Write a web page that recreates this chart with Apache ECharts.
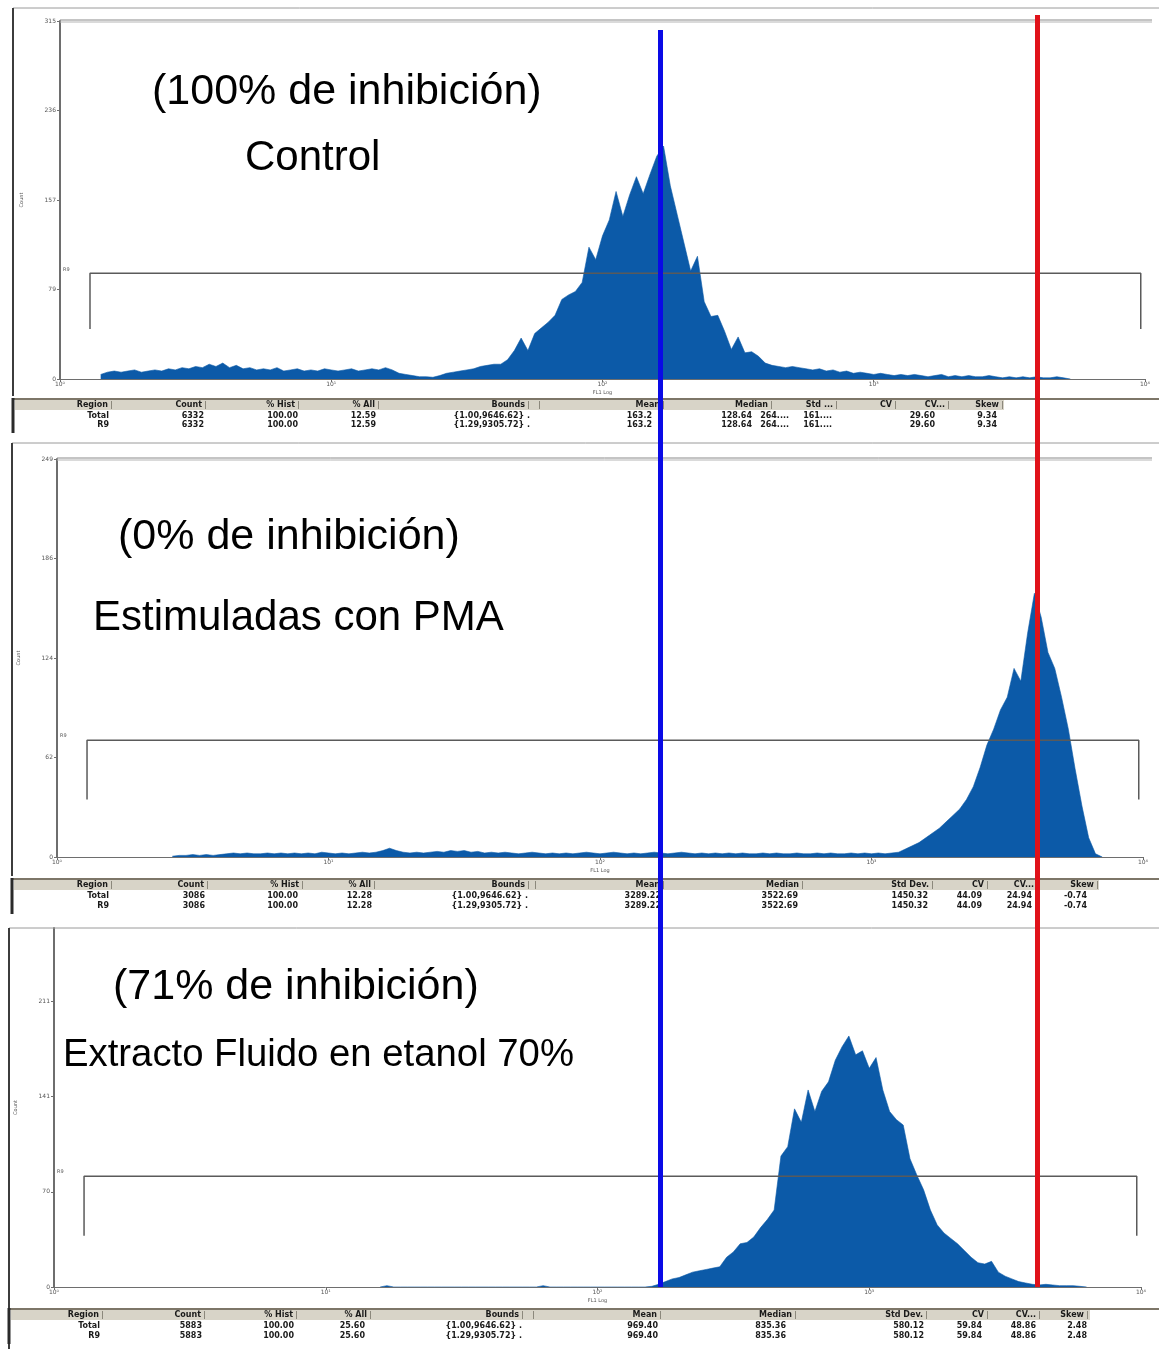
<!DOCTYPE html>
<html>
<head>
<meta charset="utf-8">
<script src="https://cdn.jsdelivr.net/npm/echarts@6/dist/echarts.min.js"></script>
<style>
html, body { margin: 0; padding: 0; background: #ffffff; }
#c { width: 1159px; height: 1349px; }
</style>
</head>
<body>
<div id="c"></div>
<script>
// FL1 channels are binned every 0.025 decade on the log axis
const BIN_STEP = 0.025;
const FL1_MIN = 1;
const FL1_MAX = 10000;
const DECADE_SUP = ['\u2070', '\u00b9', '\u00b2', '\u00b3', '\u2074'];

// --- Control (100% de inhibición) ---
const controlStart = 0.15;
const controlCounts = [
  4, 6, 7, 6, 7, 8, 6, 7, 8, 7, 9, 8, 10, 9, 11, 10, 13, 11, 14, 10,
  12, 9, 10, 8, 9, 8, 10, 7, 8, 9, 7, 8, 7, 9, 8, 7, 8, 9, 7, 8,
  9, 8, 10, 8, 5, 4, 3, 2, 2, 1.5, 3, 5, 6, 7, 8, 9, 11, 12, 13, 13,
  17, 25, 36, 25, 40, 45, 50, 56, 70, 74, 77, 85, 116, 105, 126, 140, 165, 143, 162, 178,
  163, 180, 196, 205, 170, 145, 120, 95, 108, 68, 55, 56, 42, 26, 37, 23, 24, 20, 14, 12,
  11, 10, 11, 10, 9, 8, 9, 7, 8, 6, 7, 5, 6, 5, 4, 5, 4, 3, 4, 3,
  4, 3, 2, 3, 4, 2, 3, 2, 3, 2, 2, 3, 2, 1, 2, 1, 2, 1, 2, 1,
  1, 2, 1, 0
];
const controlYTicks = [0, 78.75, 157.5, 236.25, 315];
const controlYLabels = ['0', '79', '157', '236', '315'];

// --- Estimuladas con PMA (0% de inhibición) ---
const pmaStart = 0.425;
const pmaCounts = [
  0.5, 1, 1, 1.5, 1, 1.5, 1, 1.5, 2, 2.5, 2, 2.5, 2, 2, 2.5, 2, 2.5, 2, 2.5, 2,
  2.5, 2, 3, 2.5, 2, 2.5, 2, 2.5, 3, 2.5, 3, 4, 5.5, 4, 3, 2.5, 3, 2.5, 3, 3.5,
  3, 4, 3.5, 4, 3, 3.5, 2.5, 3, 2.5, 3, 2.5, 2, 2.5, 3, 2.5, 2, 2.5, 2, 2.5, 2,
  2.5, 3, 2.5, 2, 2.5, 3, 2.5, 2, 2.5, 2, 2.5, 3, 2.5, 2, 2.5, 3, 2.5, 2, 2.5, 2,
  2.5, 2, 2.5, 2, 2.5, 2, 2, 2.5, 2, 2.5, 2, 2, 2.5, 2, 2, 2.5, 2, 2.5, 2, 2,
  2.5, 2, 2.5, 2, 2.5, 2, 2.5, 3, 5, 7, 9, 12, 15, 18, 22, 26, 30, 36, 44, 56,
  70, 80, 92, 100, 118, 110, 140, 165, 150, 128, 118, 100, 80, 55, 32, 12, 2, 0
];
const pmaYTicks = [0, 62.25, 124.5, 186.75, 249];
const pmaYLabels = ['0', '62', '124', '186', '249'];

// --- Extracto Fluido en etanol 70% (71% de inhibición) ---
const extractStart = 1.2;
const extractCounts = [
  0, 1, 0, 0, 0, 0, 0, 0, 0, 0, 0, 0, 0, 0, 0, 0, 0, 0, 0, 0,
  0, 0, 0, 0, 1, 0, 0, 0, 0, 0, 0, 0, 0, 0, 0, 0, 0, 0, 0, 0,
  0.5, 2, 4, 6, 7, 9, 11, 12, 13, 14, 15, 22, 26, 32, 33, 37, 44, 50, 57, 97,
  104, 132, 122, 146, 130, 145, 152, 168, 178, 186, 172, 175, 162, 170, 146, 130, 124, 120, 95, 83,
  72, 57, 46, 40, 36, 32, 27, 22, 18, 17, 19, 11, 8, 6, 4, 3, 2, 1.5, 2, 1.5,
  1, 1, 1, 0.5, 0
];
const extractYTicks = [0, 70.5, 141, 211.5];
const extractYLabels = ['0', '70', '141', '211'];

// Region marker: lower bound of R9, upper bound of the full range
const regionBounds = [1.29, 9646.62];
const regionLevels = [93, 73, 82];
const regionDrops = [44, 36, 38];

// Reference lines: control mean and PMA peak
const controlMeanFL1 = 163.2;
const pmaPeakFL1 = 4000;

// Statistics tables
const statHeaders1 = ['Region', 'Count', '% Hist', '% All', 'Bounds', '', 'Mean', 'Median', 'Std ...', 'CV', 'CV...', 'Skew'];
const statHeaders23 = ['Region', 'Count', '% Hist', '% All', 'Bounds', '', 'Mean', 'Median', 'Std Dev.', 'CV', 'CV...', 'Skew'];
const controlStats = [
  ['Total', '6332', '100.00', '12.59', '{1.00,9646.62} .', '', '163.2', '128.64', '264....', '161....', '29.60', '9.34'],
  ['R9', '6332', '100.00', '12.59', '{1.29,9305.72} .', '', '163.2', '128.64', '264....', '161....', '29.60', '9.34']
];
const pmaStats = [
  ['Total', '3086', '100.00', '12.28', '{1.00,9646.62} .', '', '3289.22', '3522.69', '1450.32', '44.09', '24.94', '-0.74'],
  ['R9', '3086', '100.00', '12.28', '{1.29,9305.72} .', '', '3289.22', '3522.69', '1450.32', '44.09', '24.94', '-0.74']
];
const extractStats = [
  ['Total', '5883', '100.00', '25.60', '{1.00,9646.62} .', '', '969.40', '835.36', '580.12', '59.84', '48.86', '2.48'],
  ['R9', '5883', '100.00', '25.60', '{1.29,9305.72} .', '', '969.40', '835.36', '580.12', '59.84', '48.86', '2.48']
];

const titles = [
  ['(100% de inhibición)', 'Control'],
  ['(0% de inhibición)', 'Estimuladas con PMA'],
  ['(71% de inhibición)', 'Extracto Fluido en etanol 70%']
];

// ---------------------------------------------------------------
// Layout of the three histogram windows
const layout = [
  {
    grid: { left: 60, top: 21, width: 1085, height: 358 },
    yMax: 315, frameTop: 8, frameLeft: 13, frameBottom: 396, plotTopLine: true,
    tableTop: 398, headerY: 405, rowY: [416, 425], tableRight: 1004,
    seps: [111, 205, 298, 378, 528, 539, 663, 771, 836, 895, 948, 1002],
    valRight: [109, 204, 298, 376, 530, 539, 652, 752, 789, 832, 935, 997],
    titleA: { x: 152, y: 92, size: 43 }, titleB: { x: 245, y: 158, size: 42 },
    markLabel: { x: 63, y: 270 }
  },
  {
    grid: { left: 57, top: 459, width: 1086, height: 398 },
    yMax: 249, frameTop: 443, frameLeft: 12, frameBottom: 876, plotTopLine: true,
    tableTop: 878, headerY: 885, rowY: [896, 906], tableRight: 1099,
    seps: [111, 207, 302, 374, 528, 535, 663, 802, 932, 987, 1037, 1097],
    valRight: [109, 205, 298, 372, 528, 535, 661, 798, 928, 982, 1032, 1087],
    titleA: { x: 118, y: 537, size: 43 }, titleB: { x: 93, y: 618, size: 42 },
    markLabel: { x: 60, y: 736 }
  },
  {
    grid: { left: 54, top: 928, width: 1087, height: 359 },
    yMax: 266, frameTop: 928, frameLeft: 9, frameBottom: 1349, plotTopLine: false,
    tableTop: 1308, headerY: 1315, rowY: [1326, 1336], tableRight: 1090,
    seps: [102, 204, 296, 370, 522, 533, 660, 795, 926, 987, 1039, 1087],
    valRight: [100, 202, 294, 365, 522, 533, 658, 786, 924, 982, 1036, 1087],
    titleA: { x: 113, y: 987, size: 43 }, titleB: { x: 63, y: 1055, size: 38.3 },
    markLabel: { x: 57, y: 1172 }
  }
];

const histColor = '#0c5aa8';
const axisGrey = '#6e6e6e';
const labelFont = 'Liberation Sans';
const tableFont = 'DejaVu Sans';

const panelData = [
  { start: controlStart, counts: controlCounts, ticks: controlYTicks, labels: controlYLabels, stats: controlStats, headers: statHeaders1 },
  { start: pmaStart, counts: pmaCounts, ticks: pmaYTicks, labels: pmaYLabels, stats: pmaStats, headers: statHeaders23 },
  { start: extractStart, counts: extractCounts, ticks: extractYTicks, labels: extractYLabels, stats: extractStats, headers: statHeaders23 }
];

function binned(start, counts) {
  return counts.map((c, i) => [Math.pow(10, start + i * BIN_STEP), c]);
}

const grids = [], xAxes = [], yAxes = [], series = [], graphics = [];

panelData.forEach((pd, p) => {
  const L = layout[p];
  grids.push(L.grid);
  xAxes.push({
    type: 'log', logBase: 10, gridIndex: p, min: FL1_MIN, max: FL1_MAX,
    name: 'FL1 Log', nameLocation: 'middle', nameGap: 11,
    nameTextStyle: { fontSize: 5, color: '#555', fontFamily: tableFont },
    axisLine: { lineStyle: { color: axisGrey, width: 1 } },
    axisTick: { length: 3, lineStyle: { color: axisGrey } },
    axisLabel: {
      fontSize: 6, color: '#555', margin: 2, fontFamily: tableFont,
      formatter: v => '10' + DECADE_SUP[Math.round(Math.log10(v))]
    },
    splitLine: { show: false }, minorTick: { show: false }
  });
  yAxes.push({
    type: 'value', gridIndex: p, min: 0, max: L.yMax,
    name: 'Count', nameLocation: 'middle', nameGap: 36, nameRotate: 90,
    nameTextStyle: { fontSize: 5, color: '#555', fontFamily: tableFont },
    axisLine: { show: true, lineStyle: { color: axisGrey, width: 2 } },
    axisTick: { show: true, length: 3, customValues: pd.ticks, lineStyle: { color: axisGrey } },
    axisLabel: {
      fontSize: 6, color: '#555', margin: 4, fontFamily: tableFont,
      customValues: pd.ticks,
      formatter: v => {
        const k = pd.ticks.findIndex(t => Math.abs(t - v) < 1e-6);
        return k >= 0 ? pd.labels[k] : '';
      }
    },
    splitLine: { show: false }
  });
  // histogram
  series.push({
    type: 'line', xAxisIndex: p, yAxisIndex: p, data: binned(pd.start, pd.counts),
    symbol: 'none', smooth: false, z: 3,
    lineStyle: { color: histColor, width: 0.6 },
    areaStyle: { color: histColor, opacity: 1 },
    silent: true, animation: false
  });
  // region marker bar
  series.push({
    type: 'line', xAxisIndex: p, yAxisIndex: p, symbol: 'none', z: 4,
    data: [
      [regionBounds[0], regionDrops[p]], [regionBounds[0], regionLevels[p]],
      [regionBounds[1], regionLevels[p]], [regionBounds[1], regionDrops[p]]
    ],
    lineStyle: { color: '#5a5a5a', width: 1.5 },
    silent: true, animation: false
  });

  // window frame
  graphics.push({ type: 'line', z: 1, shape: { x1: L.frameLeft, y1: L.frameTop, x2: 1159, y2: L.frameTop }, style: { stroke: '#9a9a9a', lineWidth: 1 } });
  graphics.push({ type: 'line', z: 1, shape: { x1: L.frameLeft, y1: L.frameTop, x2: L.frameLeft, y2: L.frameBottom }, style: { stroke: '#3c3c3c', lineWidth: 2 } });
  if (L.plotTopLine) {
    graphics.push({ type: 'line', z: 1, shape: { x1: L.grid.left, y1: L.grid.top - 1, x2: 1152, y2: L.grid.top - 1 }, style: { stroke: '#8a8a8a', lineWidth: 1 } });
    graphics.push({ type: 'line', z: 1, shape: { x1: L.grid.left, y1: L.grid.top + 1, x2: 1152, y2: L.grid.top + 1 }, style: { stroke: '#b5b5b5', lineWidth: 1 } });
  }
  // marker label
  graphics.push({ type: 'text', z: 5, style: { text: 'R9', x: L.markLabel.x, y: L.markLabel.y, fill: '#555', font: '5px "' + tableFont + '"', align: 'left', verticalAlign: 'middle', textAlign: 'left', textVerticalAlign: 'middle' } });

  // titles
  graphics.push({ type: 'text', z: 5, style: { text: titles[p][0], x: L.titleA.x, y: L.titleA.y, fill: '#000', font: L.titleA.size + 'px "' + labelFont + '"', align: 'left', verticalAlign: 'middle', textAlign: 'left', textVerticalAlign: 'middle' } });
  graphics.push({ type: 'text', z: 5, style: { text: titles[p][1], x: L.titleB.x, y: L.titleB.y, fill: '#000', font: L.titleB.size + 'px "' + labelFont + '"', align: 'left', verticalAlign: 'middle', textAlign: 'left', textVerticalAlign: 'middle' } });

  // statistics table
  graphics.push({ type: 'rect', z: 1, shape: { x: L.frameLeft, y: L.tableTop, width: 1159 - L.frameLeft, height: 2 }, style: { fill: '#7d7668' } });
  graphics.push({ type: 'rect', z: 1, shape: { x: L.frameLeft + 2, y: L.tableTop + 2, width: L.tableRight - L.frameLeft - 2, height: 10 }, style: { fill: '#d8d4c8' } });
  graphics.push({ type: 'line', z: 1, shape: { x1: L.frameLeft, y1: L.tableTop, x2: L.frameLeft, y2: L.rowY[1] + 8 }, style: { stroke: '#2a2a2a', lineWidth: 3 } });
  pd.headers.forEach((h, k) => {
    graphics.push({ type: 'line', z: 2, shape: { x1: L.seps[k] + 0.5, y1: L.tableTop + 3, x2: L.seps[k] + 0.5, y2: L.tableTop + 11 }, style: { stroke: '#8c887c', lineWidth: 1 } });
    if (h) graphics.push({ type: 'text', z: 2, style: { text: h, x: L.seps[k] - 3, y: L.headerY, fill: '#1a1a1a', font: 'bold 8px "' + tableFont + '"', align: 'right', verticalAlign: 'middle', textAlign: 'right', textVerticalAlign: 'middle' } });
  });
  pd.stats.forEach((row, r) => {
    row.forEach((cell, k) => {
      if (!cell) return;
      graphics.push({ type: 'text', z: 2, style: { text: cell, x: L.valRight[k], y: L.rowY[r], fill: '#1a1a1a', font: 'bold 8px "' + tableFont + '"', align: 'right', verticalAlign: 'middle', textAlign: 'right', textVerticalAlign: 'middle' } });
    });
  });
});

// Overlay grids carrying the two reference lines across all windows
const overlays = [
  { grid: { left: 60, top: 15, width: 1085, height: 1272 }, value: pmaPeakFL1, color: '#e0121a' },
  { grid: { left: 60, top: 30, width: 1085, height: 1257 }, value: controlMeanFL1, color: '#0a0ae6' }
];
overlays.forEach((o, i) => {
  const gi = grids.length;
  grids.push(o.grid);
  xAxes.push({ type: 'log', logBase: 10, gridIndex: gi, min: FL1_MIN, max: FL1_MAX, show: false });
  yAxes.push({ type: 'value', gridIndex: gi, min: 0, max: 1, show: false });
  series.push({
    type: 'line', xAxisIndex: gi, yAxisIndex: gi, data: [], symbol: 'none', z: 20, silent: true, animation: false,
    markLine: {
      symbol: 'none', silent: true, animation: false, z: 20,
      label: { show: false },
      lineStyle: { color: o.color, width: 5, type: 'solid' },
      data: [{ xAxis: o.value }]
    }
  });
});

const chart = echarts.init(document.getElementById('c'), null, { renderer: 'canvas', width: 1159, height: 1349 });
chart.setOption({
  animation: false,
  backgroundColor: '#ffffff',
  grid: grids,
  xAxis: xAxes,
  yAxis: yAxes,
  series: series,
  graphic: { elements: graphics }
});
</script>
</body>
</html>
